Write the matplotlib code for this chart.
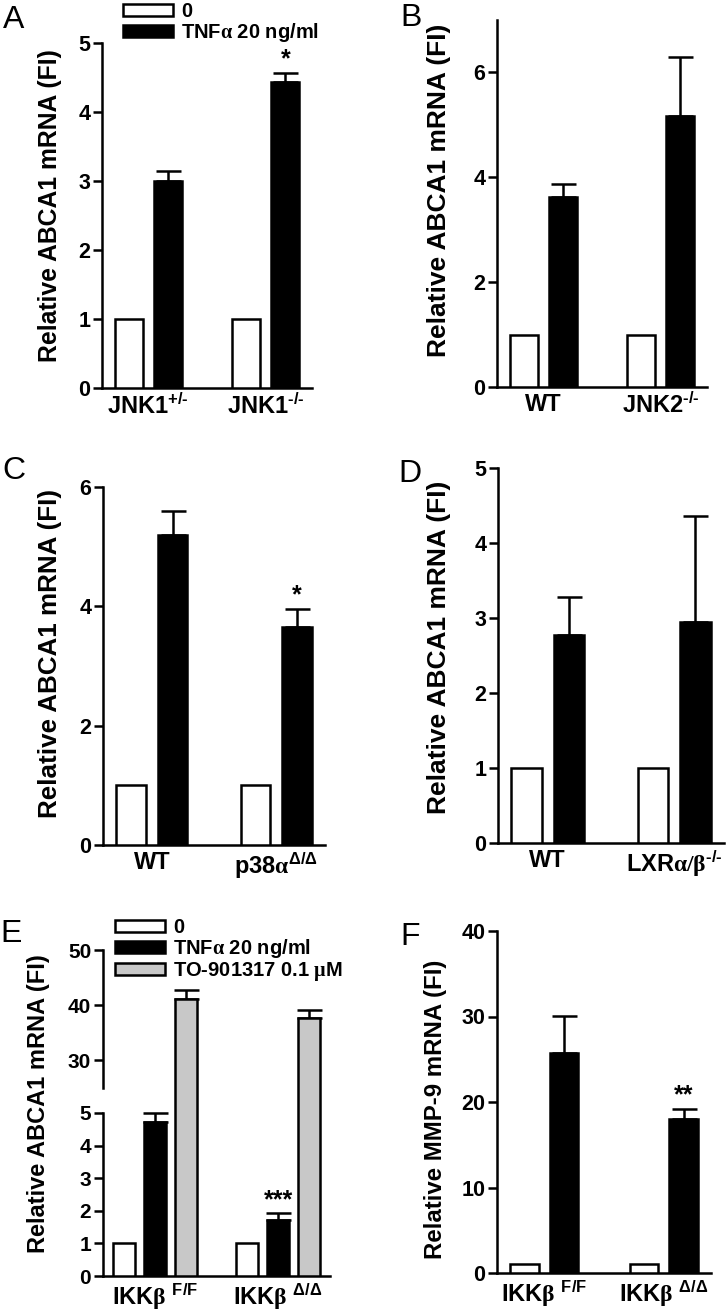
import numpy as np
import matplotlib
matplotlib.use('Agg')
import matplotlib.pyplot as plt
from matplotlib.patches import Patch

plt.rcParams['font.family'] = 'Liberation Sans'
plt.rcParams['font.weight'] = 'bold'
plt.rcParams['axes.labelweight'] = 'bold'
plt.rcParams['mathtext.fontset'] = 'custom'
plt.rcParams['mathtext.rm'] = 'Liberation Sans:bold'
plt.rcParams['mathtext.bf'] = 'Liberation Sans:bold'
plt.rcParams['mathtext.sf'] = 'Liberation Serif'
plt.rcParams['mathtext.default'] = 'bf'
plt.rcParams['axes.linewidth'] = 1.8

W, H = 728, 1310

# data
a_groups = [r'JNK1$^{+/‐}$', r'JNK1$^{‐/‐}$']
a_ctrl = [1, 1]
a_tnf = [3.0, 4.43]
a_tnf_err = [0.15, 0.14]

b_groups = ['WT', r'JNK2$^{‐/‐}$']
b_ctrl = [1, 1]
b_tnf = [3.63, 5.16]
b_tnf_err = [0.25, 1.13]

c_groups = ['WT', r'p38$\mathsf{\alpha}^{\Delta/\Delta}$']
c_ctrl = [1, 1]
c_tnf = [5.19, 3.66]
c_tnf_err = [0.40, 0.30]

d_groups = ['WT', r'LXR$\mathsf{\alpha/\beta}^{‐/‐}$']
d_ctrl = [1, 1]
d_tnf = [2.78, 2.95]
d_tnf_err = [0.50, 1.41]

e_groups = [r'IKK$\mathsf{\beta}$ $^{F/F}$', r'IKK$\mathsf{\beta}$ $^{\Delta/\Delta}$']
e_ctrl = [1, 1]
e_tnf = [4.71, 1.72]
e_tnf_err = [0.40, 0.20]
e_to = [41.2, 37.7]
e_to_err = [1.5, 1.4]

f_groups = [r'IKK$\mathsf{\beta}$ $^{F/F}$', r'IKK$\mathsf{\beta}$ $^{\Delta/\Delta}$']
f_ctrl = [1, 1]
f_tnf = [25.7, 18.05]
f_tnf_err = [4.4, 1.15]

legend_labels = ['0', r'TNF$\mathsf{\alpha}$ 20 ng/ml', r'TO-901317 0.1 $\mathsf{\mu}$M']
colors = ['white', 'black', '#c8c8c8']

fig = plt.figure(figsize=(W / 100, H / 100), dpi=100)


def px_axes(left, top, right, bottom):
    return fig.add_axes([left / W, 1 - bottom / H, (right - left) / W, (bottom - top) / H])


def draw_bars(ax, groups, series, errs, ylabel, yticks, lab_x, lab_y, lab_size, stars=()):
    n = len(series)
    x = np.arange(len(groups)) * (n + 1)
    for i, (vals, err) in enumerate(zip(series, errs)):
        ax.bar(x + i, vals, 0.72, color=colors[i], edgecolor='black', linewidth=1.8, zorder=3)
        if err is not None:
            ax.errorbar(x + i, vals, yerr=[np.zeros(len(vals)), err], fmt='none', ecolor='black',
                        elinewidth=1.8, capsize=9, capthick=1.8, zorder=2)
    for si, gi, txt in stars:
        top = series[si][gi] + errs[si][gi]
        ax.annotate(txt, (x[gi] + si, top), xytext=(0, 1), textcoords='offset points',
                    ha='center', va='bottom', fontsize=18, fontweight='bold')
    ax.set_xlim(-0.68, x[-1] + n - 1 + 0.68)
    ax.set_xticks(x + (n - 1) / 2)
    ax.set_xticklabels(groups, fontsize=17, fontweight='bold')
    ax.set_yticks(yticks)
    ax.set_yticklabels([str(t) for t in yticks], fontweight='bold')
    ax.spines['top'].set_visible(False)
    ax.spines['right'].set_visible(False)
    ax.tick_params(axis='x', length=0, pad=4)
    ax.tick_params(axis='y', length=6.5, width=1.8, labelsize=15.5, pad=2)
    ax.set_ylabel(ylabel, fontsize=lab_size, fontweight='bold')
    ax.yaxis.set_label_coords(lab_x, lab_y)


def add_legend(ax, n, x, y, size):
    handles = [Patch(facecolor=colors[i], edgecolor='black', linewidth=1.8, label=legend_labels[i])
               for i in range(n)]
    ax.legend(handles=handles, loc='upper left', bbox_to_anchor=(x / W, 1 - y / H),
              bbox_transform=fig.transFigure, frameon=False, prop={'size': size, 'weight': 'bold'},
              handlelength=2.5, handleheight=0.5, handletextpad=0.4,
              labelspacing=0.0, borderpad=0, borderaxespad=0)


abca1 = 'Relative ABCA1 mRNA (FI)'

# A
ax = px_axes(102, 43, 312, 388)
ax.set_ylim(0, 5)
draw_bars(ax, a_groups, [a_ctrl, a_tnf], [None, a_tnf_err], abca1, [0, 1, 2, 3, 4, 5],
          -0.19, 0.53, 17.8, stars=[(1, 1, '*')])
add_legend(ax, 2, 123, 2, 14.5)

# B
ax = px_axes(497, 20, 707, 387)
ax.set_ylim(0, 7)
draw_bars(ax, b_groups, [b_ctrl, b_tnf], [None, b_tnf_err], abca1, [0, 2, 4, 6],
          -0.22, 0.537, 19)

# C
ax = px_axes(103, 487, 325, 845)
ax.set_ylim(0, 6)
draw_bars(ax, c_groups, [c_ctrl, c_tnf], [None, c_tnf_err], abca1, [0, 2, 4, 6],
          -0.185, 0.536, 18.7, stars=[(1, 1, '*')])

# D
ax = px_axes(498, 468, 724, 843)
ax.set_ylim(0, 5)
draw_bars(ax, d_groups, [d_ctrl, d_tnf], [None, d_tnf_err], abca1, [0, 1, 2, 3, 4, 5],
          -0.208, 0.523, 19)

# E, broken y axis: 0-5 below, 25-50 above
yp = [-50, 0, 5, 25, 50, 100]
pp = [-1630, 0, 163, 188, 326, 602]


def fwd(y):
    return np.interp(y, yp, pp)


def inv(p):
    return np.interp(p, pp, yp)


ax = px_axes(103, 950, 330, 1276)
ax.set_yscale('function', functions=(fwd, inv))
ax.set_ylim(0, 50)
draw_bars(ax, e_groups, [e_ctrl, e_tnf, e_to], [None, e_tnf_err, e_to_err], abca1,
          [0, 1, 2, 3, 4, 5, 30, 40, 50], -0.233, 0.53, 17, stars=[(1, 1, '***')])
ax.tick_params(axis='y', labelsize=15)
ax.spines['left'].set_visible(False)
for lo, hi in [(0, 5), (25, 50)]:
    ax.plot([0, 0], [lo, hi], transform=ax.get_yaxis_transform(), color='black', lw=1.8,
            clip_on=False, solid_capstyle='projecting')
add_legend(ax, 3, 115, 918, 14.5)

# F
ax = px_axes(497, 931, 711, 1273)
ax.set_ylim(0, 40)
draw_bars(ax, f_groups, [f_ctrl, f_tnf], [None, f_tnf_err], 'Relative MMP-9 mRNA (FI)',
          [0, 10, 20, 30, 40], -0.234, 0.48, 17.3, stars=[(1, 1, '**')])

# panel letters
for letter, lx, ly in [('A', 3, 20), ('B', 400, 18), ('C', 2, 471), ('D', 398, 474),
                       ('E', 0, 934), ('F', 400, 937)]:
    fig.text(lx / W, 1 - ly / H, letter, fontsize=23, fontweight='normal', va='center', ha='left')

fig.savefig('out.png', dpi=100)
